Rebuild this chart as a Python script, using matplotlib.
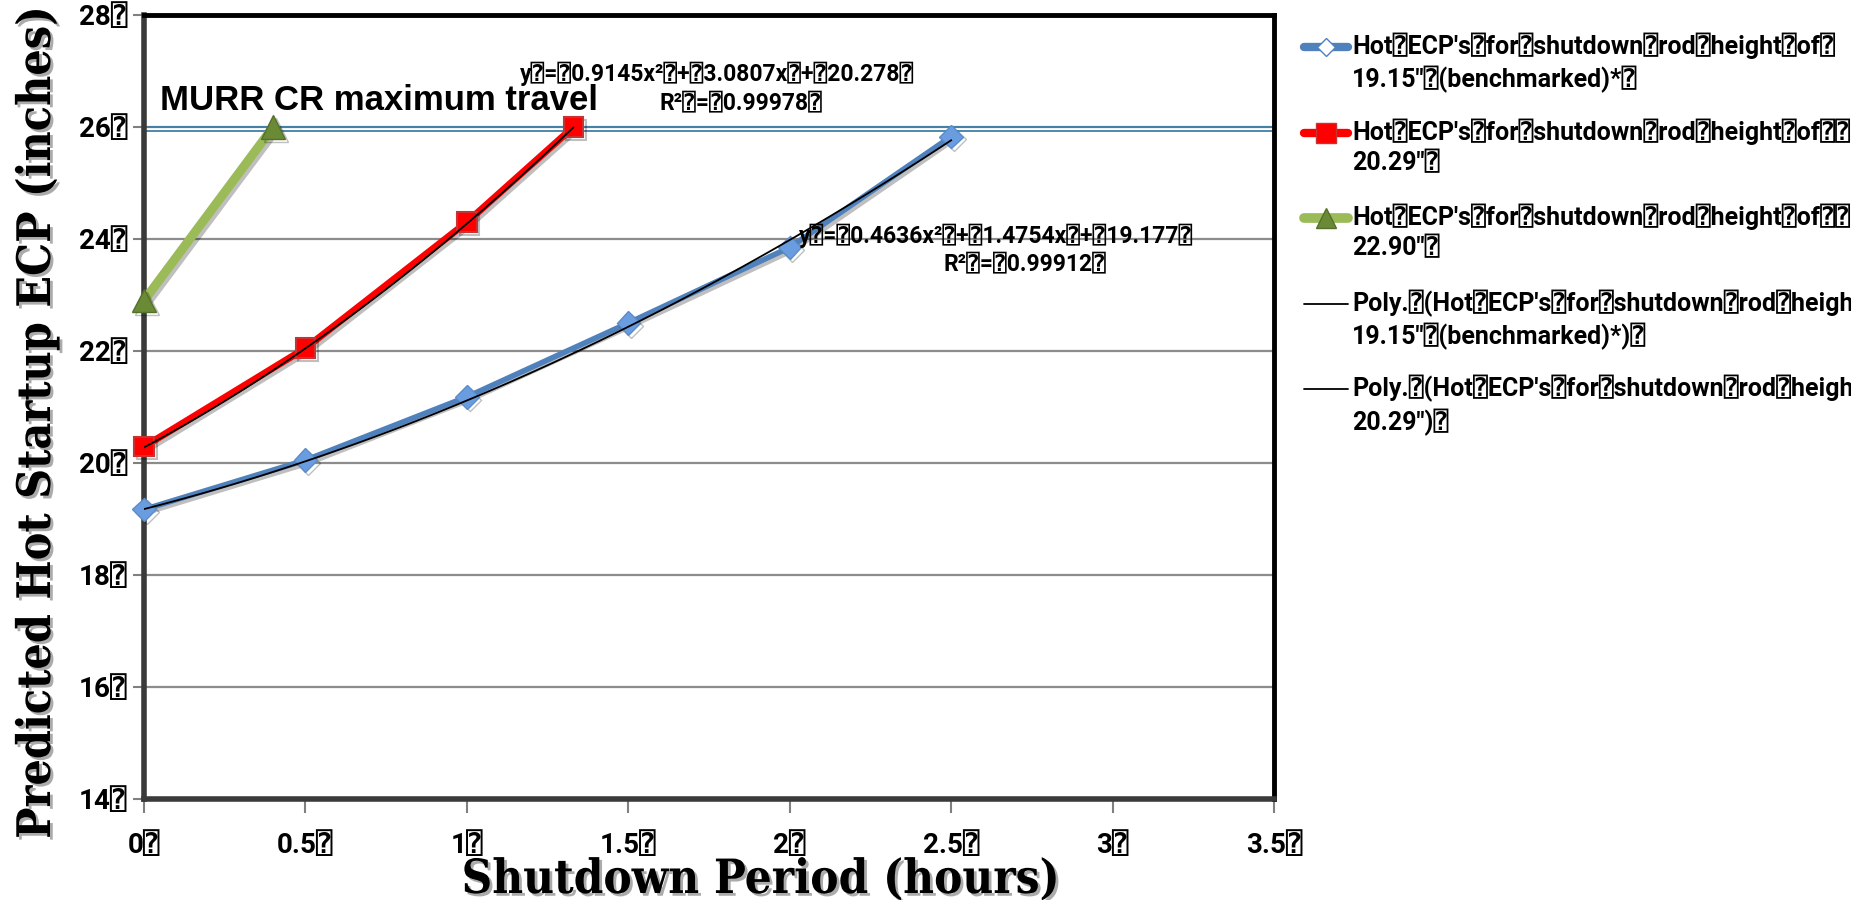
import numpy as np
import matplotlib
matplotlib.use("Agg")
from matplotlib import pyplot as plt
from matplotlib import patheffects as pe
from matplotlib.lines import Line2D

# caracter de relleno que sale en lugar de los espacios
Q = "\u2370"

# datos de las tres alturas de barras
x_1915 = [0, 0.5, 1, 1.5, 2, 2.5]
y_1915 = [19.17, 20.05, 21.18, 22.5, 23.85, 25.83]
x_2029 = [0, 0.5, 1, 1.33]
y_2029 = [20.29, 22.05, 24.3, 26.0]
x_2290 = [0, 0.4]
y_2290 = [22.9, 26.0]

# coeficientes de los ajustes polinomicos (de las ecuaciones)
fit_1915 = [0.4636, 1.4754, 19.177]
fit_2029 = [0.9145, 3.0807, 20.278]
r2_1915 = 0.99912
r2_2029 = 0.99978

max_travel = 26.0

yticks = [14, 16, 18, 20, 22, 24, 26, 28]
xticks = [0, 0.5, 1, 1.5, 2, 2.5, 3, 3.5]

labels = [
    "Hot" + Q + "ECP's" + Q + "for" + Q + "shutdown" + Q + "rod" + Q + "height" + Q + "of" + Q + "\n19.15\"" + Q + "(benchmarked)*" + Q,
    "Hot" + Q + "ECP's" + Q + "for" + Q + "shutdown" + Q + "rod" + Q + "height" + Q + "of" + Q + Q + "\n20.29\"" + Q,
    "Hot" + Q + "ECP's" + Q + "for" + Q + "shutdown" + Q + "rod" + Q + "height" + Q + "of" + Q + Q + "\n22.90\"" + Q,
    "Poly." + Q + "(Hot" + Q + "ECP's" + Q + "for" + Q + "shutdown" + Q + "rod" + Q + "height" + Q + "of" + Q + "\n19.15\"" + Q + "(benchmarked)*)" + Q,
    "Poly." + Q + "(Hot" + Q + "ECP's" + Q + "for" + Q + "shutdown" + Q + "rod" + Q + "height" + Q + "of" + Q + "\n20.29\")" + Q,
]

BLUE = "#4f81bd"
RED = "#ff0000"
GREEN = "#9bbb59"
OLIVE = "#6b8a35"

plt.rcParams['font.family'] = ['Roboto', 'DejaVu Sans', 'DejaVu Sans Mono']
plt.rcParams['font.weight'] = 'bold'

W, H = 1851, 900
fig = plt.figure(figsize=(W / 100, H / 100), dpi=100)
ax = fig.add_axes([144 / W, 1 - 799 / H, (1274 - 144) / W, (799 - 15) / H])

ax.set_xlim(0, 3.5)
ax.set_ylim(14, 28)
ax.set_yticks(yticks)
ax.set_xticks(xticks)
ax.set_yticklabels([f"{v}" + Q for v in yticks])
ax.set_xticklabels([f"{v:g}" + Q for v in xticks])
ax.tick_params(axis='y', length=8, width=1.5, color='#808080', pad=4, labelsize=20)
ax.tick_params(axis='x', length=10, width=1.5, color='#808080', pad=14, labelsize=20)

ax.grid(axis='y', color='#8c8c8c', lw=1.6)
ax.set_axisbelow(True)
for side in ['top', 'right']:
    ax.spines[side].set_linewidth(3.5)
    ax.spines[side].set_color('black')
for side in ['left', 'bottom']:
    ax.spines[side].set_linewidth(4)
    ax.spines[side].set_color('#3a3a3a')

# linea de recorrido maximo (doble)
ax.axhline(max_travel, color='#3f7fa8', lw=1.3, zorder=2)
ax.axhline(max_travel - 0.08, color='#3f7fa8', lw=1.3, zorder=2)

sombra = [pe.SimpleLineShadow(offset=(2, -2), shadow_color='k', alpha=0.25), pe.Normal()]

ax.plot(x_1915, y_1915, color=BLUE, lw=4, marker='D', ms=12, mfc='#6a9de0',
        mec='#5a8ccc', zorder=3, path_effects=sombra, clip_on=False)
ax.plot(x_2029, y_2029, color=RED, lw=5, marker='s', ms=14, mfc=RED,
        mec='#c83232', mew=1.5, zorder=3, path_effects=sombra, clip_on=False)
ax.plot(x_2290, y_2290, color=GREEN, lw=6.5, marker='^', ms=17, mfc=OLIVE,
        mec='#55702a', zorder=3, path_effects=sombra, clip_on=False)

xx = np.linspace(0, max(x_1915), 100)
ax.plot(xx, np.polyval(fit_1915, xx), color='black', lw=1.3, zorder=4)
xx = np.linspace(0, max(x_2029), 100)
ax.plot(xx, np.polyval(fit_2029, xx), color='black', lw=1.3, zorder=4)

# texto de la linea de recorrido maximo
ax.text(160 / W, 1 - 100 / H, "MURR CR maximum travel", transform=fig.transFigure,
        family='Liberation Sans', fontsize=25, fontweight='bold', va='center', ha='left')

def ecuacion(c, r2, cx, cy, rx, ry):
    s = "y" + Q + "=" + Q + f"{c[0]}x²" + Q + "+" + Q + f"{c[1]}x" + Q + "+" + Q + f"{c[2]}" + Q
    fig.text(cx / W, 1 - cy / H, s, fontsize=16.5, ha='center', va='center')
    fig.text(rx / W, 1 - ry / H, "R²" + Q + "=" + Q + f"{r2}" + Q, fontsize=16.5,
             ha='center', va='center')

ecuacion(fit_2029, r2_2029, 717, 74, 741, 103)
ecuacion(fit_1915, r2_1915, 996, 236, 1025, 264)

# titulos de ejes
sombra_txt = [pe.withSimplePatchShadow(offset=(2, -2), shadow_rgbFace='0.4', alpha=0.55)]
fig.text(37 / W, 1 - 422 / H, "Predicted Hot Startup ECP (inches)", rotation=90,
         family='DejaVu Serif', fontstretch='condensed', fontweight='heavy', fontsize=33.3,
         ha='center', va='center', path_effects=sombra_txt)
fig.text(761 / W, 1 - 880 / H, "Shutdown Period (hours)",
         family='DejaVu Serif', fontstretch='condensed', fontweight='heavy', fontsize=34,
         ha='center', va='center', path_effects=sombra_txt)

# leyenda dibujada a mano
handles = [
    dict(color=BLUE, lw=6, marker='D', ms=9, mfc='white', mec=BLUE),
    dict(color=RED, lw=6, marker='s', ms=15, mfc=RED, mec='#c83232'),
    dict(color=GREEN, lw=7, marker='^', ms=15, mfc=OLIVE, mec='#55702a'),
    dict(color='black', lw=1.3),
    dict(color='black', lw=1.3),
]
y0 = 47
for i, (lab, h) in enumerate(zip(labels, handles)):
    y = y0 + i * 85.5
    fig.add_artist(Line2D([1304 / W, 1326 / W, 1348 / W], [1 - y / H] * 3, markevery=[1],
                          transform=fig.transFigure, solid_capstyle='round', **h))
    fig.text(1352 / W, 1 - (y - 14) / H, lab, fontsize=18, ha='left', va='top',
             linespacing=1.3)

fig.savefig("out.png", dpi=100)
